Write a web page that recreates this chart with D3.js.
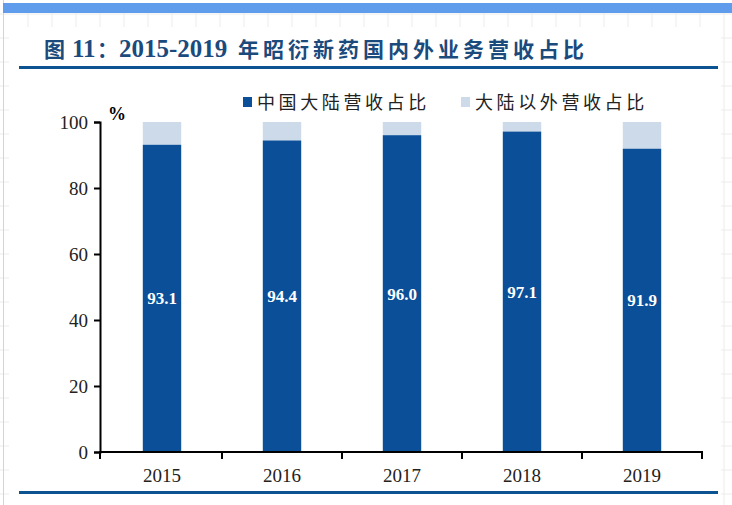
<!DOCTYPE html>
<html><head><meta charset="utf-8">
<script src="https://cdn.jsdelivr.net/npm/d3@7"></script>
<style>body{margin:0;background:#fff}svg{display:block}</style>
</head><body>
<svg id="c" width="732" height="505"></svg>
<script>
const titleParts = [
  {t:"图", x:44, size:21, ls:0, f:"'Noto Sans CJK SC',sans-serif"},
  {t:"11", x:72, size:25, ls:0, f:"'Liberation Serif',serif"},
  {t:"：", x:97, size:21, ls:0, f:"'Noto Sans CJK SC',sans-serif"},
  {t:"2015-2019", x:119, size:25, ls:0, f:"'Liberation Serif',serif"},
  {t:"年昭衍新药国内外业务营收占比", x:238, size:21, ls:4, f:"'Noto Sans CJK SC',sans-serif"}
];
const categories = ["2015","2016","2017","2018","2019"];
const mainlandShare = [93.1, 94.4, 96.0, 97.1, 91.9];
const seriesNames = ["中国大陆营收占比","大陆以外营收占比"];
const yTicks = [0,20,40,60,80,100];

const svg = d3.select("#c");
// background spreadsheet grid
const bg = svg.append("g");
for (let y = 14; y < 505; y += 24) bg.append("line").attr("x1",0).attr("x2",732).attr("y1",y).attr("y2",y).attr("stroke","#ececec");
for (let x = 28; x < 732; x += 24) bg.append("line").attr("x1",x).attr("x2",x).attr("y1",13).attr("y2",505).attr("stroke","#ececec");
bg.append("rect").attr("x",9).attr("y",27).attr("width",712).attr("height",478).attr("fill","#fff");
bg.append("line").attr("x1",3.5).attr("x2",3.5).attr("y1",0).attr("y2",505).attr("stroke","#d4d4d4");
bg.append("rect").attr("x",3).attr("y",3).attr("width",729).attr("height",10).attr("fill","#5f9ceb");

// title
const tt = svg.append("text").attr("y",57).attr("font-weight","bold").attr("fill","#1b4a7c");
titleParts.forEach(p => tt.append("tspan").attr("x",p.x).attr("font-family",p.f).attr("font-size",p.size)
  .attr("letter-spacing",p.ls).text(p.t));
svg.append("rect").attr("x",19).attr("y",66).attr("width",699).attr("height",3).attr("fill","#0d5291");
svg.append("rect").attr("x",19).attr("y",491).attr("width",699).attr("height",3).attr("fill","#0d5291");

const x = d3.scaleBand().domain(categories).range([102,702]).paddingInner(0.68).paddingOuter(0.34);
const y = d3.scaleLinear().domain([0,100]).range([452,122]);
const dark = "#0b4f98", light = "#ccdaea";

// bars
const g = svg.append("g");
categories.forEach((c,i) => {
  const v = mainlandShare[i];
  g.append("rect").attr("x",x(c)).attr("width",x.bandwidth()).attr("y",y(100)).attr("height",y(v)-y(100)).attr("fill",light);
  g.append("rect").attr("x",x(c)).attr("width",x.bandwidth()).attr("y",y(v)).attr("height",y(0)-y(v)).attr("fill",dark);
  g.append("text").attr("x",x(c)+x.bandwidth()/2).attr("y",(y(v)+y(0))/2).attr("dy","0.35em")
    .attr("text-anchor","middle").attr("font-family","'Liberation Serif',serif").attr("font-weight","bold")
    .attr("font-size",17).attr("fill","#fff").text(v.toFixed(1));
});

// y axis
const ya = svg.append("g").attr("transform","translate(100,0)")
  .call(d3.axisLeft(y).tickValues(yTicks).tickSize(6).tickPadding(6));
ya.select(".domain").attr("stroke","#000").attr("stroke-width",2);
ya.selectAll(".tick line").attr("stroke","#000").attr("stroke-width",2);
ya.selectAll("text").attr("font-family","'Liberation Serif',serif").attr("font-size",19).attr("fill","#222");
svg.append("text").attr("x",108).attr("y",120).attr("font-family","'Liberation Serif',serif").attr("font-weight","bold").attr("font-size",18).text("%");

// x axis
const boundaries = [100].concat(categories.map(c => x(c)+x.bandwidth()/2 + x.step()/2));
svg.append("line").attr("x1",99).attr("x2",703).attr("y1",452).attr("y2",452).attr("stroke","#000").attr("stroke-width",2);
boundaries.forEach(b => svg.append("line").attr("x1",b).attr("x2",b).attr("y1",452).attr("y2",459).attr("stroke","#000").attr("stroke-width",2));
categories.forEach(c => svg.append("text").attr("x",x(c)+x.bandwidth()/2).attr("y",482).attr("text-anchor","middle")
  .attr("font-family","'Liberation Serif',serif").attr("font-size",19).attr("fill","#222").text(c));

// legend
const leg = [{n:seriesNames[0],c:dark,x:243},{n:seriesNames[1],c:light,x:461}];
leg.forEach(l => {
  svg.append("rect").attr("x",l.x).attr("y",97).attr("width",9).attr("height",10).attr("fill",l.c);
  svg.append("text").attr("x",l.x+14).attr("y",109).attr("font-family","'Noto Sans CJK SC',sans-serif")
    .attr("font-size",18).attr("letter-spacing",3.6).attr("fill","#222").text(l.n);
});
</script>
</body></html>
